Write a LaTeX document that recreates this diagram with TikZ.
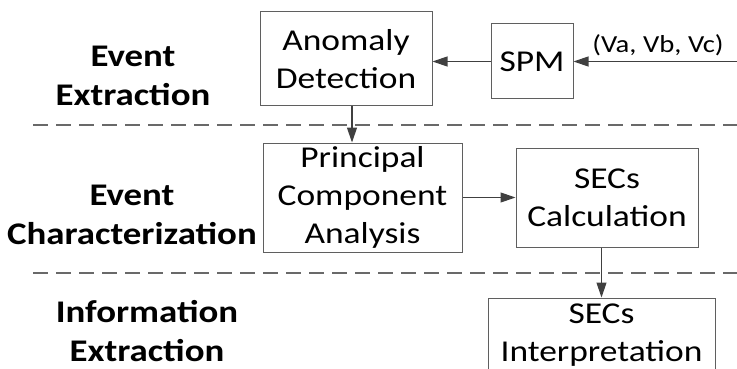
\documentclass[tikz,border=0pt]{standalone}
\usepackage{fontspec}
\setmainfont{Carlito}[FakeStretch=1.17]
\usetikzlibrary{arrows.meta}
\definecolor{boxline}{RGB}{95,95,95}
\definecolor{arrline}{RGB}{64,64,64}
\definecolor{dashline}{RGB}{105,105,105}
\tikzset{
  procbox/.style={draw=boxline, line width=1pt, inner sep=0pt, align=center,
    font=\fontsize{30.3}{38}\selectfont},
  phaselabel/.style={inner sep=0pt, align=center, font=\fontsize{31.5}{39}\selectfont\bfseries},
  arr/.style={draw=arrline, line width=1.2pt, -{Triangle[length=15pt,width=10pt]}},
  sepline/.style={draw=dashline, line width=1.5pt, dash pattern=on 15pt off 8pt},
}
\begin{document}
\begin{tikzpicture}[x=1pt,y=-1pt]
\useasboundingbox (0,0) rectangle (737,369);
% phase labels
\node[phaselabel] (l1) at (133,76) {Event\\Extraction};
\node[phaselabel] (l2) at (132,214.5) {Event\\Characterization};
\node[phaselabel] (l3) at (147,331.5) {Information\\Extraction};
% separators
\coordinate (d1a) at (33,125); \coordinate (d1b) at (737,125);
\coordinate (d2a) at (33,273); \coordinate (d2b) at (737,273);
\draw[sepline] (d1a) -- (d1b);
\draw[sepline] (d2a) -- (d2b);
% boxes
\node[procbox, minimum width=172pt, minimum height=94pt] (ad) at (346,59) {Anomaly\\Detection};
\node[procbox, minimum width=82pt, minimum height=75pt] (spm) at (532,61.5) {SPM};
\node[procbox, minimum width=199pt, minimum height=109pt] (pca) at (362.5,197.5) {Principal\\Component\\Analysis};
\node[procbox, minimum width=182pt, minimum height=99pt] (sc) at (607,197.5) {SECs\\Calculation};
\node[procbox, minimum width=227pt, minimum height=74pt] (si) at (601.5,335) {SECs\\Interpretation};
% input
\coordinate (inp) at (737,61.5);
\node[inner sep=0pt, font=\fontsize{24.5}{28}\selectfont] (lab) at (658,45) {(Va, Vb, Vc)};
% arrows
\draw[arr] (inp) -- (spm.east);
\draw[arr] (spm.west) -- (spm.west -| ad.east);
\draw[arr] ([xshift=6pt]ad.south) -- ([xshift=6pt]ad.south |- pca.north);
\draw[arr] (pca.east) -- (pca.east -| sc.west);
\draw[arr] (si.north |- sc.south) -- (si.north);
\end{tikzpicture}
\end{document}
